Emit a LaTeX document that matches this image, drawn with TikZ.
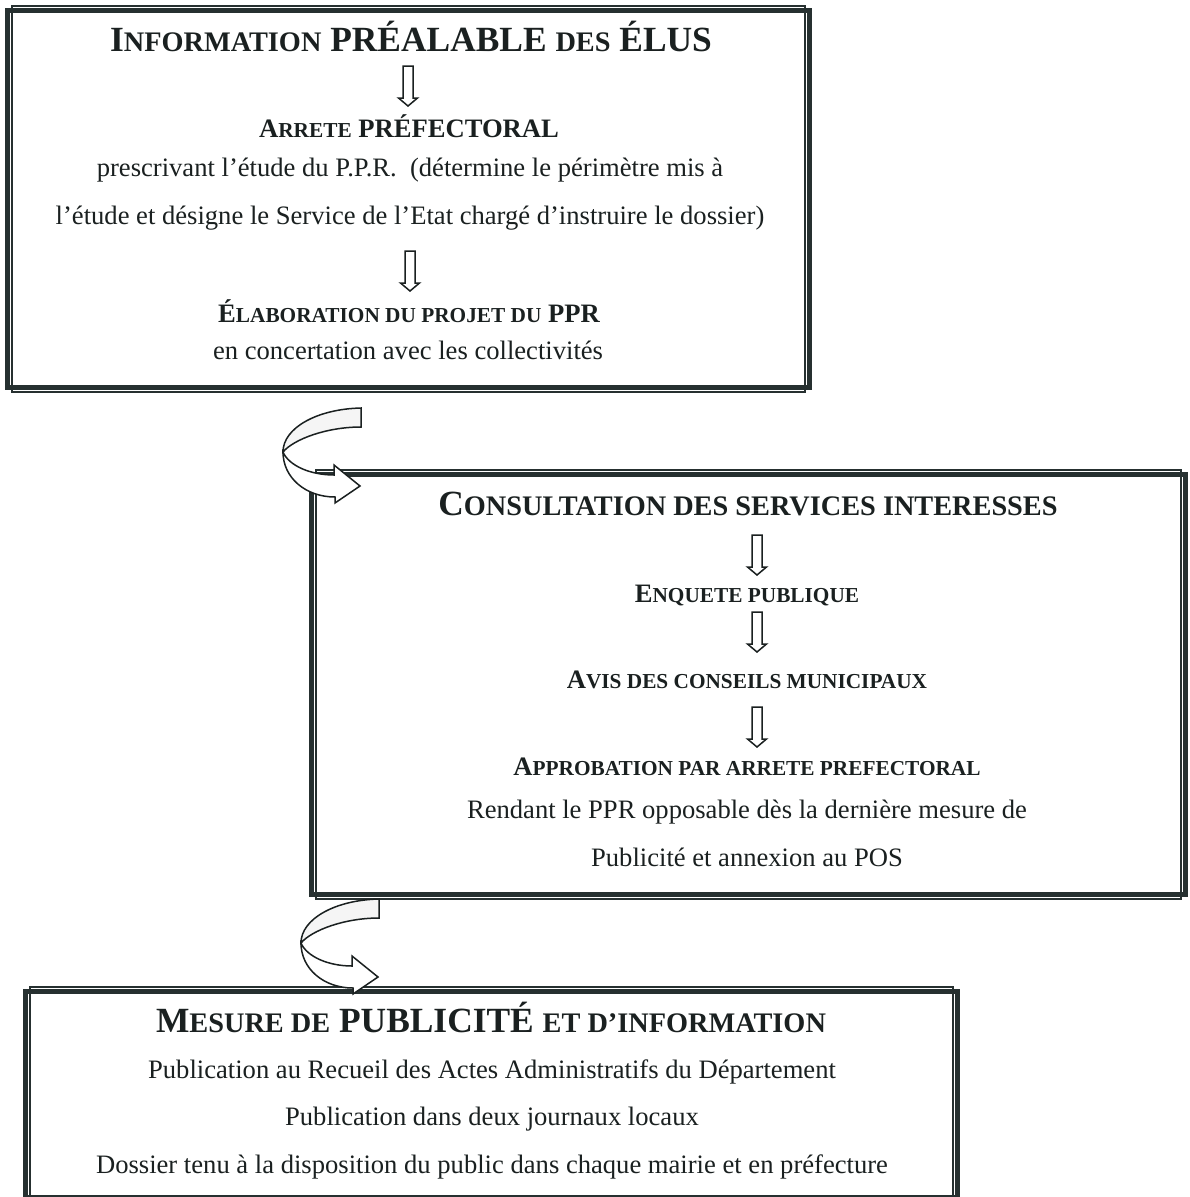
\documentclass[tikz,border=0pt]{standalone}
\usepackage{fontspec}
\setmainfont{Liberation Serif}
\definecolor{ink}{HTML}{1A2020}
\definecolor{framec}{HTML}{263030}
\newcommand\tsc[1]{{\fontsize{28.3pt}{30pt}\selectfont #1}}
\newcommand\hsc[1]{{\fontsize{21.3pt}{24pt}\selectfont #1}}
\tikzset{
  titletext/.style={font=\bfseries\fontsize{35.4pt}{40pt}\selectfont, anchor=base, inner sep=0pt, text=ink},
  headtext/.style={font=\bfseries\fontsize{26.6pt}{30pt}\selectfont, anchor=base, inner sep=0pt, text=ink},
  bodytext/.style={font=\fontsize{26.6pt}{30pt}\selectfont, anchor=base, inner sep=0pt, text=ink},
  framebox/.style={draw=framec, line width=5pt, inner sep=0pt, outer sep=0pt, rectangle},
  innerline/.style={draw=framec, line width=1.3pt},
  downarr/.pic={\draw[ink, line width=1.5pt, line join=miter, fill=white]
      (-5,0) -- (5,0) -- (5,32) -- (9.5,32) -- (0,40) -- (-9.5,32) -- (-5,32) -- cycle;},
  ribbon/.pic={
    \draw[ink, line width=1.5pt, fill=black!4]
      (0,0) .. controls (-44,1) and (-78,20) .. (-78,44)
            .. controls (-67,31) and (-34,19) .. (0,19) -- cycle;
    \draw[ink, line width=1.5pt, fill=white, line join=miter]
      (-78,44) .. controls (-72,58) and (-50,67) .. (-27,67) -- (-27,57) -- (-1,78)
      -- (-26,95) -- (-26,89) .. controls (-55,89) and (-78,70) .. (-78,44) -- cycle;}
}
\begin{document}
\begin{tikzpicture}[x=1pt,y=-1pt]
\useasboundingbox (0,0) rectangle (1190,1197);
\fill[white] (0,0) rectangle (1190,1197);

% frames
\node[framebox, minimum width=802pt, minimum height=377pt] (box1) at (408.5,199) {};
\draw[innerline] ([shift={(4.5,-4.5)}]box1.north west) rectangle ([shift={(-4.5,4.5)}]box1.south east);
\node[framebox, minimum width=874pt, minimum height=420pt] (box2) at (748.5,684.5) {};
\draw[innerline] ([shift={(4.5,-4.5)}]box2.north west) rectangle ([shift={(-4.5,4.5)}]box2.south east);
\node[framebox, minimum width=932pt, minimum height=206pt] (box3) at (491.5,1094.5) {};
\draw[innerline] ([shift={(4.5,-4.5)}]box3.north west) rectangle ([shift={(-4.5,4.5)}]box3.south east);

% box 1
\node[titletext] (t1) at (411,51) {I\tsc{NFORMATION} PRÉALABLE \tsc{DES} ÉLUS};
\pic at (408,66) {downarr};
\node[headtext] (h1) at (409,137) {A\hsc{RRETE} PRÉFECTORAL};
\node[bodytext] (p1) at (410,176) {prescrivant l’étude du P.P.R.\ \ (détermine le périmètre mis à};
\node[bodytext] (p2) at (410,224) {l’étude et désigne le Service de l’Etat chargé d’instruire le dossier)};
\pic at (410,251) {downarr};
\node[headtext] (h2) at (409,322) {É\hsc{LABORATION DU PROJET DU} PPR};
\node[bodytext] (p3) at (408,359) {en concertation avec les collectivités};

% box 2
\node[titletext] (t2) at (748,515) {C\tsc{ONSULTATION DES SERVICES INTERESSES}};
\pic at (757,535) {downarr};
\node[headtext] (h3) at (747,602) {E\hsc{NQUETE PUBLIQUE}};
\pic at (757,612) {downarr};
\node[headtext] (h4) at (747,688) {A\hsc{VIS DES CONSEILS MUNICIPAUX}};
\pic at (757,707) {downarr};
\node[headtext] (h5) at (747,775) {A\hsc{PPROBATION PAR ARRETE PREFECTORAL}};
\node[bodytext] (p4) at (747,818) {Rendant le PPR opposable dès la dernière mesure de};
\node[bodytext] (p5) at (747,866) {Publicité et annexion au POS};

% box 3
\node[titletext] (t3) at (491,1032) {M\tsc{ESURE DE} PUBLICITÉ \tsc{ET D’INFORMATION}};
\node[bodytext] (p6) at (492,1078) {Publication au Recueil des Actes Administratifs du Département};
\node[bodytext] (p7) at (492,1125) {Publication dans deux journaux locaux};
\node[bodytext] (p8) at (492,1173) {Dossier tenu à la disposition du public dans chaque mairie et en préfecture};

% curved ribbon arrows between boxes
\coordinate (r1) at (361,408);
\coordinate (r2) at (379,899);
\pic at (r1) {ribbon};
\pic at (r2) {ribbon};
\end{tikzpicture}
\end{document}
